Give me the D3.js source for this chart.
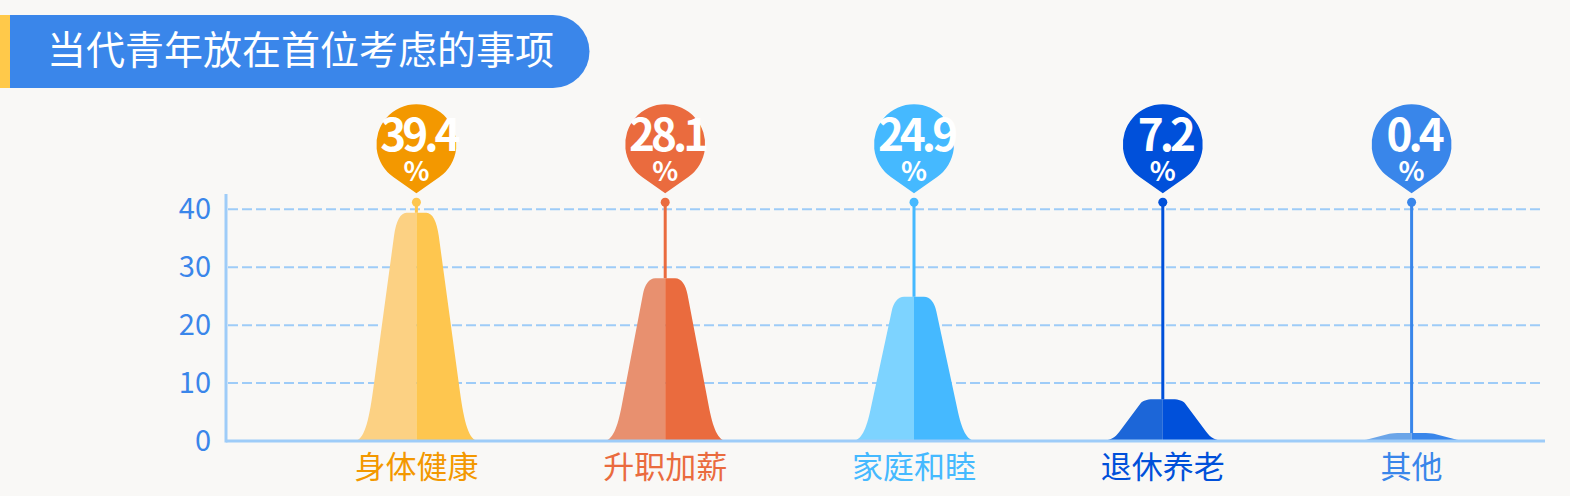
<!DOCTYPE html>
<html>
<head>
<meta charset="utf-8">
<script src="https://cdn.jsdelivr.net/npm/d3@7"></script>
<style>
  body { margin: 0; background: #F9F8F6; }
  svg { display: block; font-family: "Noto Sans CJK SC", "Noto Sans", sans-serif; }
</style>
</head>
<body>
<div id="chart"></div>
<script>
// Data
const categories = ["身体健康", "升职加薪", "家庭和睦", "退休养老", "其他"];
const values = [39.4, 28.1, 24.9, 7.2, 0.4];
const yTicks = [0, 10, 20, 30, 40];
const title = "当代青年放在首位考虑的事项";

// Colours
const lightColors = ["#FCD183", "#E8906F", "#7DD3FF", "#1C66D8", "#6BA5E8"];
const darkColors = ["#FEC64F", "#EA6B3E", "#45B9FF", "#0050DA", "#3986EA"];
const pinColors = ["#F39800", "#EA6B3E", "#45B9FF", "#0050DA", "#3986EA"];
const axisColor = "#9ECCF8";
const textBlue = "#3A86EA";

// Dimensions
const W = 1570, H = 496;
const plot = { left: 226, right: 1545, top: 194, bottom: 441 };

const svg = d3.select("#chart")
  .append("svg")
  .attr("width", W)
  .attr("height", H);

svg.append("rect").attr("width", W).attr("height", H).attr("fill", "#F9F8F6");

// Title banner
svg.append("rect")
  .attr("x", 0).attr("y", 15).attr("width", 11).attr("height", 73)
  .attr("fill", "#FFC94A");
svg.append("path")
  .attr("d", "M10,15 H553 A36.5,36.5 0 0 1 553,88 H10 Z")
  .attr("fill", "#3A86EA");
svg.append("text")
  .attr("x", 47).attr("y", 64)
  .attr("fill", "#fff")
  .attr("font-size", 39)
  .text(title);

// Scales
const x = d3.scaleBand()
  .domain(categories)
  .range([292, 1536]);

const y = d3.scaleLinear()
  .domain([0, 40])
  .range([plot.bottom, 209.3]);

const cx = d => x(d) + x.bandwidth() / 2;

// Grid lines
svg.append("g")
  .selectAll("line")
  .data(yTicks.filter(t => t > 0))
  .enter()
  .append("line")
  .attr("x1", plot.left + 2)
  .attr("x2", 1542)
  .attr("y1", d => y(d))
  .attr("y2", d => y(d))
  .attr("stroke", axisColor)
  .attr("stroke-width", 2)
  .attr("stroke-dasharray", "10,4");

// Y axis labels
const yAxis = svg.append("g")
  .attr("transform", `translate(${plot.left},0)`)
  .call(d3.axisLeft(y).tickValues(yTicks).tickSize(0).tickPadding(15));
yAxis.select(".domain").remove();
yAxis.selectAll("text")
  .attr("fill", textBlue)
  .attr("font-size", 29)
  .attr("font-family", "\"Noto Sans CJK SC\", sans-serif");

// Mountain shapes (unit coords: u 0..10 across, v 0..10 up)
const halfW = 62;
const minH = 8;
const leftHalf = [["M", 0, 0], ["C", 0.75, 0, 1.15, 0.8, 1.5, 2.2], ["L", 3.2, 9.0],
  ["C", 3.35, 9.6, 3.7, 10, 4.2, 10], ["L", 5, 10], ["L", 5, 0]];

const topY = v => Math.min(y(v), y(0) - minH);

function shapePath(c, v, mirror) {
  const base = y(0), top = topY(v);
  const px = u => c + ((mirror ? 10 - u : u) - 5) / 5 * halfW;
  const py = t => base - t / 10 * (base - top);
  return leftHalf.map(seg => {
    const pts = [];
    for (let i = 1; i < seg.length; i += 2) pts.push(px(seg[i]) + "," + py(seg[i + 1]));
    return seg[0] + pts.join(" ");
  }).join(" ") + " Z";
}

const data = categories.map((c, i) => ({ cat: c, value: values[i], i: i }));

const peaks = svg.append("g").selectAll("g").data(data).enter().append("g");

peaks.append("path")
  .attr("d", d => shapePath(cx(d.cat), d.value, false))
  .attr("fill", d => lightColors[d.i]);
peaks.append("path")
  .attr("d", d => shapePath(cx(d.cat), d.value, true))
  .attr("fill", d => darkColors[d.i]);

// Axis lines
svg.append("line")
  .attr("x1", plot.left).attr("x2", plot.right)
  .attr("y1", plot.bottom).attr("y2", plot.bottom)
  .attr("stroke", axisColor).attr("stroke-width", 3);
svg.append("line")
  .attr("x1", plot.left).attr("x2", plot.left)
  .attr("y1", plot.top).attr("y2", plot.bottom + 1.5)
  .attr("stroke", axisColor).attr("stroke-width", 3);

// Pins
const dotY = y(40) - 7;
const pinR = 40, pinCy = y(40) - 65, tipY = y(40) - 16;

function pinPath(c) {
  const d = tipY - pinCy;
  const th = Math.acos(pinR / d);
  const sx = pinR * Math.sin(th), sy = pinR * Math.cos(th);
  return `M${c},${tipY} L${c - sx},${pinCy + sy} A${pinR},${pinR} 0 1 1 ${c + sx},${pinCy + sy} Z`;
}

peaks.append("line")
  .attr("x1", d => cx(d.cat)).attr("x2", d => cx(d.cat))
  .attr("y1", dotY).attr("y2", d => topY(d.value))
  .attr("stroke", d => darkColors[d.i])
  .attr("stroke-width", 3);
peaks.append("circle")
  .attr("cx", d => cx(d.cat)).attr("cy", dotY).attr("r", 4.5)
  .attr("fill", d => darkColors[d.i]);
peaks.append("path")
  .attr("d", d => pinPath(cx(d.cat)))
  .attr("fill", d => pinColors[d.i]);

const pinText = peaks.append("text")
  .attr("text-anchor", "middle")
  .attr("fill", "#fff")
  .attr("font-weight", "bold");
pinText.append("tspan")
  .attr("x", d => cx(d.cat) + 2)
  .attr("y", pinCy + 7)
  .attr("font-size", 44)
  .attr("letter-spacing", -4)
  .text(d => d.value);
pinText.append("tspan")
  .attr("x", d => cx(d.cat))
  .attr("y", pinCy + 37)
  .attr("font-size", 27)
  .attr("letter-spacing", 0)
  .text("%");

// Category labels
svg.append("g").selectAll("text").data(data).enter()
  .append("text")
  .attr("x", d => cx(d.cat))
  .attr("y", 478)
  .attr("text-anchor", "middle")
  .attr("fill", d => pinColors[d.i])
  .attr("font-size", 31)
  .text(d => d.cat);
</script>
</body>
</html>
